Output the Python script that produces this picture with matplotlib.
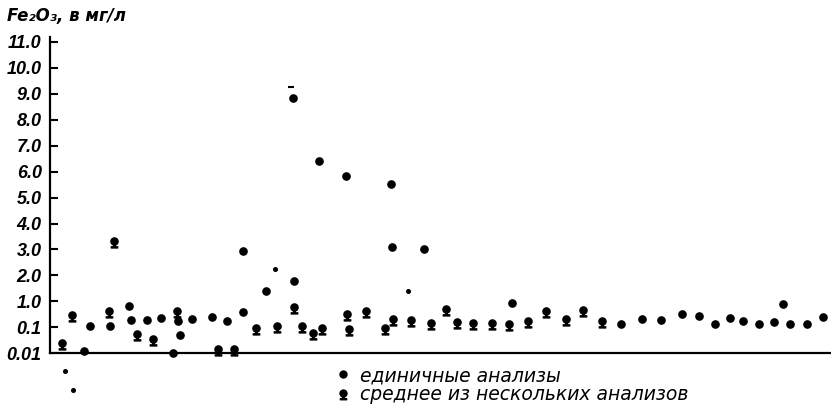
import numpy as np
import matplotlib
matplotlib.use("Agg")
import matplotlib.pyplot as plt
from matplotlib.path import Path
from matplotlib.lines import Line2D

# Fe2O3 content, mg/l (x = position along the profile)
single_x = [34.3, 40, 60, 79, 81, 97.3, 111, 122.7, 127.7, 130, 142.3, 161.7, 176.7,
            193.3, 193.3, 215.7, 244, 243.3, 269, 295.7, 340.7, 341.7, 374, 461.7,
            571, 591.7, 611, 631.7, 649.3, 665, 680, 692.7, 709, 724.3, 733.3, 740,
            757.3, 773.3]
single_v = [0.012, 0.11, 0.11, 0.66, 0.19, 0.19, 0.22, 0.01, 0.18, 0.049, 0.21, 0.25, 0.17,
            0.38, 2.95, 1.41, 1.78, 8.85, 6.4, 5.83, 5.52, 3.09, 3.0, 0.83,
            0.13, 0.21, 0.2, 0.33, 0.27, 0.13, 0.23, 0.17, 0.14, 0.16, 0.81, 0.14,
            0.14, 0.25]

mean_x = [12.3, 21.7, 59, 64.3, 86.7, 103.3, 126.7, 168.3, 184.3, 205.7, 227.3, 244,
          251.7, 263.3, 272.3, 296.7, 299.3, 316, 335, 342.7, 360.7, 381, 395.7,
          406.7, 422.7, 441.7, 459.3, 477.7, 496, 516, 533.3, 551.7]
mean_v = [0.025, 0.31, 0.42, 3.33, 0.055, 0.036, 0.42, 0.015, 0.015, 0.095, 0.11, 0.62,
          0.11, 0.06, 0.095, 0.32, 0.087, 0.42, 0.095, 0.21, 0.2, 0.15, 0.49,
          0.16, 0.15, 0.15, 0.14, 0.18, 0.42, 0.21, 0.45, 0.17]

# small specks on the scan
small_x = [225, 358.3, 15, 22.7]
small_v = [2.23, 1.41, 0.0021, 0.00037]
dash_x = [241]
dash_v = [9.26]

tick_vals = [0.01, 0.1, 1, 2, 3, 4, 5, 6, 7, 8, 9, 10, 11]
tick_labels = ["0.01", "0.1", "1.0", "2.0", "3.0", "4.0", "5.0", "6.0",
               "7.0", "8.0", "9.0", "10.0", "11.0"]


def fwd(v):
    v = np.asarray(v, dtype=float)
    with np.errstate(divide="ignore", invalid="ignore"):
        return np.where(v <= 1, np.log10(np.clip(v, 1e-12, None)) + 2, v + 1)


def inv(u):
    u = np.asarray(u, dtype=float)
    return np.where(u <= 2, 10 ** (u - 2), u - 1)


def mean_marker():
    # dot on a short stem with a bar underneath
    circle = Path.circle((0, 0), 0.5)
    stem = Path.unit_rectangle().transformed(
        matplotlib.transforms.Affine2D().scale(0.22, 0.3).translate(-0.11, -0.72))
    bar = Path.unit_rectangle().transformed(
        matplotlib.transforms.Affine2D().scale(0.9, 0.16).translate(-0.45, -0.9))
    return Path.make_compound_path(circle, stem, bar)


def main():
    fig = plt.figure(figsize=(8.31, 4.09), dpi=100)
    ax = fig.add_axes([50 / 831, 55.7 / 409, 780 / 831, 316.6 / 409])

    ax.set_yscale("function", functions=(fwd, inv))
    ax.set_ylim(0.01, 11.2)
    ax.set_xlim(0, 780)

    ax.plot(single_x, single_v, "o", color="black", markersize=5.2, clip_on=False)
    ax.plot(mean_x, mean_v, ls="", marker=mean_marker(), color="black",
            markersize=9.3, clip_on=False)
    ax.plot(small_x, small_v, "o", color="black", markersize=2.6, clip_on=False)
    ax.plot(dash_x, dash_v, "_", color="black", markersize=4, mew=1.5, clip_on=False)

    for s in ["top", "right"]:
        ax.spines[s].set_visible(False)
    ax.spines["left"].set_linewidth(1.6)
    ax.spines["bottom"].set_linewidth(1.6)

    ax.set_xticks([])
    ax.set_yticks(tick_vals)
    ax.set_yticklabels(tick_labels)
    ax.yaxis.set_minor_locator(matplotlib.ticker.NullLocator())
    ax.tick_params(axis="y", direction="in", length=6, width=1.5, pad=6)
    for lab in ax.get_yticklabels():
        lab.set_family(["Liberation Sans", "DejaVu Sans"])
        lab.set_fontweight("bold")
        lab.set_fontstyle("italic")
        lab.set_fontsize(13)

    fig.text(0.008, 0.962, "Fe\u2082O\u2083, в мг/л", fontsize=12, fontweight="bold",
             fontstyle="italic", va="center", ha="left")

    handles = [
        Line2D([], [], ls="", marker="o", color="black", markersize=5),
        Line2D([], [], ls="", marker=mean_marker(), color="black", markersize=9),
    ]
    fig.legend(handles, ["единичные анализы", "среднее из нескольких анализов"],
               loc="upper left", bbox_to_anchor=(334 / 831, 1 - 366 / 409),
               frameon=False, prop={"size": 13.5, "style": "italic"},
               handlelength=1.0, handletextpad=0.4, labelspacing=0.0,
               borderpad=0, borderaxespad=0)

    fig.savefig("out.png", dpi=100)


if __name__ == "__main__":
    main()
